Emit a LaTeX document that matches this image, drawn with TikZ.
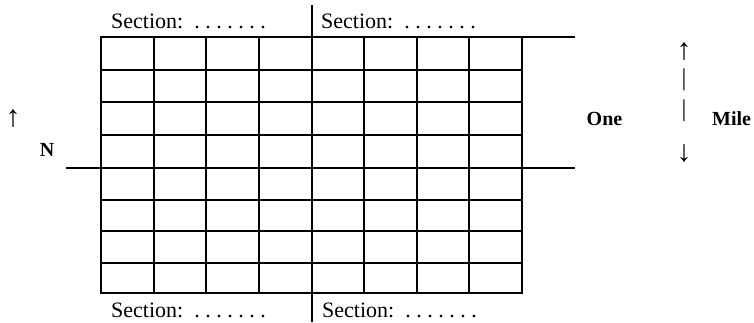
\documentclass[tikz,border=0pt]{standalone}
\usepackage{fontspec}
\setmainfont{Liberation Serif}
\frenchspacing
\begin{document}
\begin{tikzpicture}[x=1pt,y=-1pt,
  gridline/.style={line width=2pt, line cap=rect},
  extline/.style={line width=2pt},
  lbl/.style={inner sep=0pt, font=\fontsize{22}{26}\selectfont},
  bl/.style={inner sep=0pt, font=\fontsize{20}{24}\selectfont\bfseries},
  arr/.style={inner sep=0pt, font=\fontsize{30}{34}\selectfont},
  bar/.style={inner sep=0pt, font=\fontsize{24}{28}\selectfont}]
\useasboundingbox (0,0) rectangle (754,322);
% grid
\foreach \x in {101,153.6,206.3,258.9,311.5,364.1,416.8,469.4,521.7}
  \draw[gridline] (\x,36.7) -- (\x,293.3);
\foreach \y in {36.7,70,101.7,135,168.3,200,231,262.7,293.3}
  \draw[gridline] (101,\y) -- (521.7,\y);
% extended lines
\coordinate (tl) at (101,36.7);
\coordinate (tr) at (575,36.7);
\coordinate (ml) at (66,168.3);
\coordinate (mr) at (575,168.3);
\coordinate (vt) at (311.5,5);
\coordinate (vb) at (311.5,322);
\draw[extline] (tl) -- (tr);
\draw[extline] (ml) -- (mr);
\draw[extline] (vt) -- (vb);
% section labels
\node[lbl, anchor=base west] (s1) at (111,28) {Section:\ \ . . . . . . .};
\node[lbl, anchor=base west] (s2) at (321,28) {Section:\ \ . . . . . . .};
\node[lbl, anchor=base west] (s3) at (111,317) {Section:\ \ . . . . . . .};
\node[lbl, anchor=base west] (s4) at (322,317) {Section:\ \ . . . . . . .};
% north
\node[arr] (nup) at (13,119) {↑};
\node[bl] (N) at (47,150) {N};
% one mile
\node[bl, anchor=base] (one) at (604.5,125) {One};
\node[bl, anchor=base west] (mile) at (712,125) {Mile};
\node[arr] (a1) at (684,52) {↑};
\node[bar] (a2) at (684,80) {|};
\node[bar] (a3) at (684,111) {|};
\node[arr] (a4) at (684,154) {↓};
\end{tikzpicture}
\end{document}
